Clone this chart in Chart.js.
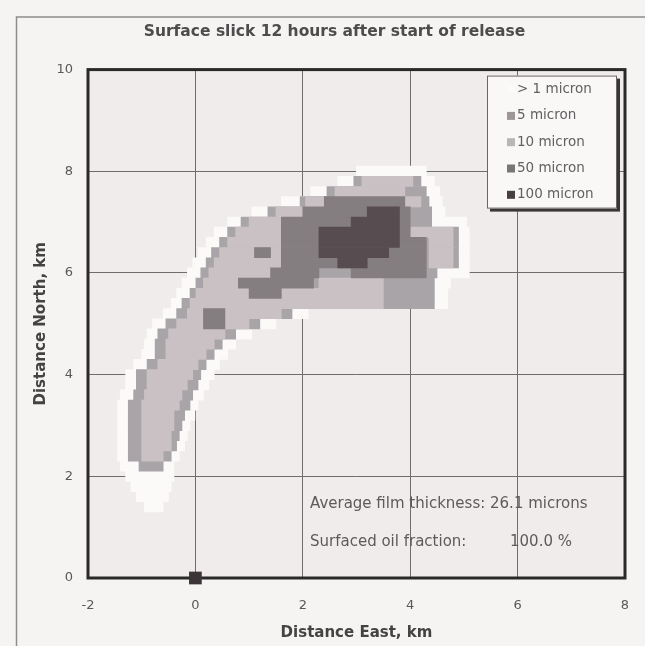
<!DOCTYPE HTML>
<html>
<head>
  <title>Surface slick 12 hours after start of release</title>
  <meta content="width=device-width, initial-scale=1.0, user-scalable=yes" name="viewport">
  <script src="https://cdn.jsdelivr.net/npm/chart.js"></script>
  <style>
    html, body { margin: 0; padding: 0; background: #f6f4f3; }
    .chart-container { position: relative; width: 645px; height: 646px; }
  </style>
</head>
<body>
  <div class="chart-container">
    <canvas id="slickChart"></canvas>
  </div>

  <script type="text/javascript">

    var chartTitle = "Surface slick 12 hours after start of release";
    var xTitle = "Distance East, km";
    var yTitle = "Distance North, km";
    var xRange = [-2, 8];
    var yRange = [0, 10];
    var tickStep = 2;

    // thickness classes, legend order
    var classLabels = ["> 1 micron", "5 micron", "10 micron", "50 micron", "100 micron"];
    var classColors = ["#fbfaf9", "#a9a4a7", "#cac1c4", "#847e81", "#574d51"];
    var swatchColors = ["#fbfaf9", "#9d9799", "#bab5b7", "#7b7578", "#473f42"];

    // grid cells, one run per row:
    // [row centre north km, west edge km, east edge km]
    var runs1 = [
      [1.4, -0.95, -0.6], [1.6, -1.1, -0.5], [1.8, -1.2, -0.45], [2.0, -1.3, -0.4],
      [2.2, -1.4, -0.4], [2.4, -1.45, -0.3], [2.6, -1.45, -0.2], [2.8, -1.45, -0.15],
      [3.0, -1.45, -0.1], [3.2, -1.45, 0.0], [3.4, -1.45, 0.05], [3.6, -1.4, 0.15],
      [3.8, -1.3, 0.25], [4.0, -1.3, 0.35], [4.2, -1.15, 0.45], [4.4, -1.0, 0.6],
      [4.6, -0.95, 0.75], [4.8, -0.9, 1.05], [5.0, -0.8, 1.5], [5.2, -0.6, 2.1],
      [5.4, -0.45, 4.7], [5.6, -0.35, 4.7], [5.8, -0.25, 4.75], [6.0, -0.15, 5.1],
      [6.2, -0.05, 5.1], [6.4, 0.05, 5.1], [6.6, 0.2, 5.1], [6.8, 0.35, 5.1],
      [7.0, 0.6, 5.05], [7.2, 1.05, 4.65], [7.4, 1.6, 4.6], [7.6, 2.15, 4.55],
      [7.8, 2.65, 4.45], [8.0, 3.0, 4.3]
    ];
    var runs5 = [
      [2.2, -1.05, -0.6], [2.4, -1.25, -0.45], [2.6, -1.25, -0.35], [2.8, -1.25, -0.3],
      [3.0, -1.25, -0.25], [3.2, -1.25, -0.2], [3.4, -1.25, -0.1], [3.6, -1.15, -0.05],
      [3.8, -1.1, 0.05], [4.0, -1.1, 0.1], [4.2, -0.9, 0.2], [4.4, -0.75, 0.35],
      [4.6, -0.75, 0.5], [4.8, -0.7, 0.75], [5.0, -0.55, 1.2], [5.2, -0.35, 1.8],
      [5.4, -0.25, 4.45], [5.6, -0.1, 4.45], [5.8, 0.0, 4.45], [6.0, 0.1, 4.5],
      [6.2, 0.2, 4.9], [6.4, 0.3, 4.9], [6.6, 0.45, 4.9], [6.8, 0.6, 4.9],
      [7.0, 0.85, 4.4], [7.2, 1.35, 4.4], [7.4, 1.95, 4.35], [7.6, 2.45, 4.3],
      [7.8, 2.95, 4.2]
    ];
    var runs10 = [
      [2.4, -1.0, -0.6], [2.6, -1.0, -0.45], [2.8, -1.0, -0.45], [3.0, -1.0, -0.4],
      [3.2, -1.0, -0.4], [3.4, -1.0, -0.3], [3.6, -0.95, -0.25], [3.8, -0.9, -0.15],
      [4.0, -0.9, -0.05], [4.2, -0.7, 0.05], [4.4, -0.55, 0.2], [4.6, -0.55, 0.35],
      [4.8, -0.5, 0.55], [5.0, -0.35, 1.0], [5.2, -0.15, 1.6], [5.4, -0.1, 3.5],
      [5.6, 0.0, 1.0], [5.6, 1.6, 3.5], [5.8, 0.15, 0.8], [5.8, 2.3, 3.5],
      [6.0, 0.25, 1.4], [6.2, 0.35, 1.6], [6.2, 4.35, 4.8], [6.4, 0.45, 1.1],
      [6.4, 1.4, 1.6], [6.4, 4.35, 4.8], [6.6, 0.6, 1.6], [6.6, 4.35, 4.8],
      [6.8, 0.75, 1.6], [6.8, 4.0, 4.8], [7.0, 1.0, 1.6], [7.2, 1.5, 2.0],
      [7.4, 2.05, 2.4], [7.4, 3.9, 4.2], [7.6, 2.6, 3.9], [7.8, 3.1, 4.05]
    ];
    var runs50 = [
      [5.0, 0.15, 0.55], [5.2, 0.15, 0.55], [5.6, 1.0, 1.6], [5.8, 0.8, 2.2],
      [6.0, 1.4, 2.3], [6.0, 2.9, 4.3], [6.2, 1.6, 4.3], [6.4, 1.1, 1.4],
      [6.4, 1.6, 4.3], [6.6, 1.6, 4.3], [6.8, 1.6, 4.0], [7.0, 1.6, 4.0],
      [7.2, 2.0, 4.0], [7.4, 2.4, 3.9]
    ];
    var runs100 = [
      [6.2, 2.65, 3.2], [6.4, 2.3, 3.6], [6.6, 2.3, 3.8], [6.8, 2.3, 3.8],
      [7.0, 2.9, 3.8], [7.2, 3.2, 3.8]
    ];
    var classRuns = [runs1, runs5, runs10, runs50, runs100];

    // release point
    var sourceX = [0];
    var sourceY = [0];

    var statLines = ["Average film thickness: 26.1 microns", "Surfaced oil fraction:"];
    var statValue = "100.0 %";

    var fontFamily = '"DejaVu Sans", "Liberation Sans", sans-serif';

    function toBars(runs)
    {
      return runs.map(function (r) { return { y: r[0], x: [r[1], r[2]] }; });
    }

    var datasets = [];
    for (let i = 0; i < classRuns.length; i++)
    {
      datasets.push({
        type: 'bar',
        label: classLabels[i],
        data: toBars(classRuns[i]),
        backgroundColor: classColors[i],
        borderWidth: 0,
        grouped: false,
        barPercentage: 1,
        categoryPercentage: 1,
        order: classRuns.length - i
      });
    }
    datasets.push({
      type: 'scatter',
      label: 'source',
      data: sourceX.map(function (x, i) { return { x: x, y: sourceY[i] }; }),
      pointStyle: 'rect',
      pointRadius: 9,
      backgroundColor: '#3b3537',
      borderColor: '#3b3537',
      borderWidth: 0,
      clip: false,
      order: 0
    });

    var paperPlugin = {
      id: 'paper',
      beforeDraw: function (chart)
      {
        var ctx = chart.ctx, a = chart.chartArea;
        ctx.save();
        ctx.fillStyle = '#f6f4f3';
        ctx.fillRect(0, 0, chart.width, chart.height);
        ctx.strokeStyle = '#8e8c8c';
        ctx.lineWidth = 1.5;
        ctx.beginPath();
        ctx.moveTo(16.5, chart.height);
        ctx.lineTo(16.5, 17);
        ctx.lineTo(chart.width, 17);
        ctx.stroke();
        ctx.fillStyle = '#efeceb';
        ctx.fillRect(a.left, a.top, a.right - a.left, a.bottom - a.top);
        ctx.restore();
      },
      beforeDatasetsDraw: function (chart)
      {
        var ctx = chart.ctx, a = chart.chartArea;
        ctx.save();
        ctx.strokeStyle = '#2b2829';
        ctx.lineWidth = 3;
        ctx.strokeRect(a.left, a.top, a.right - a.left, a.bottom - a.top);
        ctx.restore();
      },
      afterDatasetsDraw: function (chart)
      {
        var ctx = chart.ctx, a = chart.chartArea;
        ctx.save();
        // legend box with shadow
        var bw = 130, bh = 133;
        var bx = a.right - 8 - bw, by = a.top + 6;
        ctx.fillStyle = '#3a3637';
        ctx.fillRect(bx + 3, by + 3, bw, bh);
        ctx.fillStyle = '#f9f8f7';
        ctx.fillRect(bx, by, bw, bh);
        ctx.strokeStyle = '#6a6667';
        ctx.lineWidth = 1;
        ctx.strokeRect(bx + 0.5, by + 0.5, bw - 1, bh - 1);
        ctx.font = '13.5px ' + fontFamily;
        ctx.textBaseline = 'middle';
        ctx.textAlign = 'left';
        for (let i = 0; i < classLabels.length; i++)
        {
          var ly = by + 14 + i * 26.3;
          ctx.fillStyle = swatchColors[i];
          ctx.fillRect(bx + 20, ly - 4, 8, 8);
          ctx.fillStyle = '#626062';
          ctx.fillText(classLabels[i], bx + 30, ly);
        }
        // summary text
        ctx.font = '15px ' + fontFamily;
        ctx.fillStyle = '#5c5a5b';
        ctx.fillText(statLines[0], a.left + 222, a.bottom - 74);
        ctx.fillText(statLines[1], a.left + 222, a.bottom - 36);
        ctx.fillText(statValue, a.left + 422, a.bottom - 36);
        ctx.restore();
      }
    };

    var slickChart = new Chart(document.getElementById('slickChart'), {
      type: 'bar',
      data: { datasets: datasets },
      plugins: [paperPlugin],
      options: {
        indexAxis: 'y',
        responsive: true,
        maintainAspectRatio: false,
        animation: false,
        events: [],
        layout: { padding: { left: 44, right: 20, top: 0, bottom: 0 } },
        scales: {
          x: {
            type: 'linear',
            min: xRange[0],
            max: xRange[1],
            offset: false,
            ticks: { stepSize: tickStep, color: '#5a5858', padding: 20, font: { family: fontFamily, size: 13 } },
            grid: { color: '#6f6c6d', lineWidth: 1, drawTicks: false, offset: false },
            border: { display: false },
            title: { display: true, text: xTitle, color: '#444243', padding: { top: 0, bottom: 4 },
                     font: { family: fontFamily, size: 15, weight: 'bold' } },
            afterFit: function (scale)
            {
              scale.height = 68;
              scale.paddingLeft = 0;
              scale.paddingRight = 0;
            }
          },
          y: {
            type: 'linear',
            min: yRange[0],
            max: yRange[1],
            offset: false,
            ticks: { stepSize: tickStep, color: '#5a5858', padding: 15, font: { family: fontFamily, size: 13 } },
            grid: { color: '#6f6c6d', lineWidth: 1, drawTicks: false, offset: false },
            border: { display: false },
            title: { display: true, text: yTitle, color: '#444243', padding: { top: -12, bottom: 0 },
                     font: { family: fontFamily, size: 15, weight: 'bold' } },
            afterFit: function (scale) { scale.width = 44; }
          }
        },
        plugins: {
          legend: { display: false },
          tooltip: { enabled: false },
          title: {
            display: true,
            text: chartTitle,
            color: '#4d4b4c',
            padding: { top: 23, bottom: 28 },
            font: { family: fontFamily, size: 15.5, weight: 'bold' }
          }
        }
      }
    });

  </script>
</body>
</html>
